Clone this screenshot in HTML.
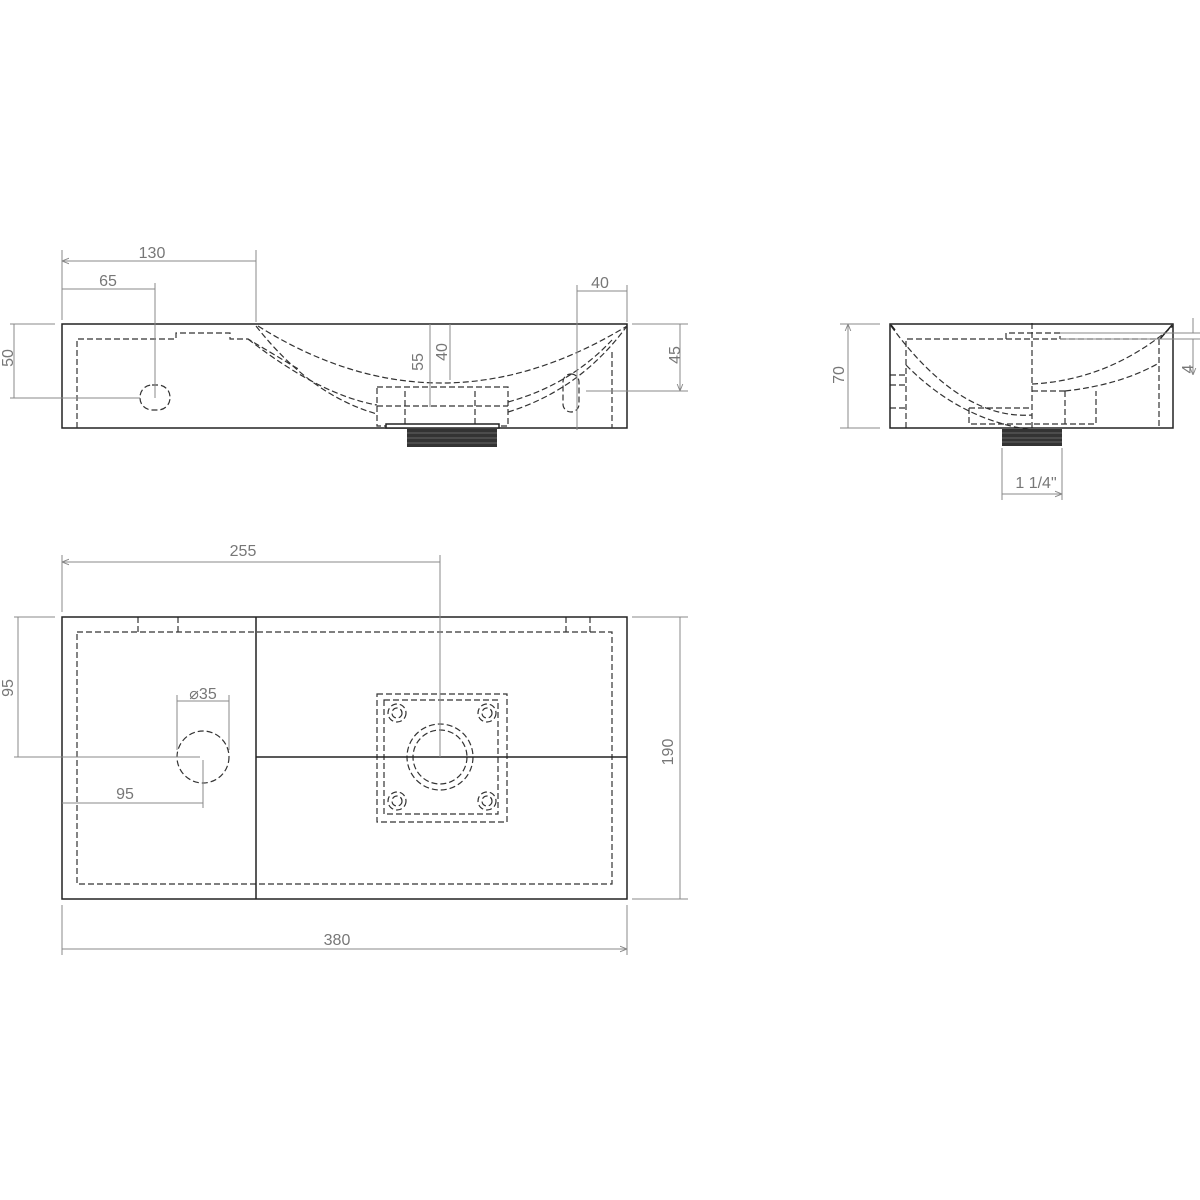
<!DOCTYPE html><html><head><style>body{margin:0;background:#fff}svg{display:block}text{font-family:"Liberation Sans",sans-serif;font-size:16px;fill:#777;text-anchor:middle}</style></head><body>
<svg width="1200" height="1200" viewBox="0 0 1200 1200" xmlns="http://www.w3.org/2000/svg">
<defs><marker id="a" viewBox="0 0 10 10" refX="10" refY="5" markerWidth="7" markerHeight="7" orient="auto-start-reverse"><path d="M0,1L10,5L0,9" fill="none" stroke="#888" stroke-width="1.3"/></marker></defs>
<g fill="none" stroke="#222" stroke-width="1.5">
<rect x="62" y="324" width="565" height="104"/>
</g>
<g fill="none" stroke="#333" stroke-width="1.2" stroke-dasharray="6,3">
<path d="M77,428V339H176V333H230V339H248L300,370"/>
<path d="M258,326Q440,440 627,326"/>
<path d="M248,339Q320,395 377,405M508,402Q570,385 612,340"/>
<path d="M256,326Q310,395 377,414M508,412Q580,390 627,326"/>
<path d="M612,352V428"/>
<rect x="377" y="387" width="131" height="39"/>
<path d="M405,391V426M475,391V426M377,406H508"/>
<rect x="140" y="385" width="30" height="25" rx="12"/>
<rect x="563" y="374" width="16" height="38" rx="8"/>
<path d="M906,428V339H1159V428M1006,339V333H1060V339"/>
<path d="M891,326Q960,420 1032,415M906,365Q960,420 1032,430"/>
<path d="M1032,323V430M1032,384Q1110,380 1173,326M1032,391H1065M1065,391Q1120,385 1159,363"/>
<path d="M969,408H1032M969,408V424H1096V391M1065,391V424"/>
<path d="M890,375H906M890,385H906M890,408H906"/>
<path d="M77,632H612V884H77Z"/>
<path d="M138,617V632M178,617V632M566,617V632M590,617V632"/>
<circle cx="203" cy="757" r="26"/>
<rect x="377" y="694" width="130" height="128"/>
<rect x="384" y="700" width="114" height="114"/>
<circle cx="440" cy="757" r="33"/><circle cx="440" cy="757" r="27"/>
<circle cx="397" cy="713" r="9"/><circle cx="487" cy="713" r="9"/><circle cx="397" cy="801" r="9"/><circle cx="487" cy="801" r="9"/>
<circle cx="397" cy="713" r="5"/><circle cx="487" cy="713" r="5"/><circle cx="397" cy="801" r="5"/><circle cx="487" cy="801" r="5"/>
</g>
<g fill="none" stroke="#222" stroke-width="1.5">
<rect x="386" y="424" width="113" height="4" fill="#fff"/>
<rect x="890" y="324" width="283" height="104"/>
<path d="M891,325L895,330M1172,325L1160,339"/>
<rect x="62" y="617" width="565" height="282"/>
<path d="M256,617V899M256,757H627"/>
</g>
<g fill="#333"><rect x="407" y="429" width="90" height="18"/><rect x="1002" y="429" width="60" height="17"/></g>
<g stroke="#666" stroke-width="1"><path d="M407,433H497M407,438H497M407,443H497M1002,433H1062M1002,438H1062M1002,442H1062"/></g>
<g fill="none" stroke="#888" stroke-width="1">
<path d="M62,250V320M256,250V322M155,283V398M577,285V430M627,285V322M10,324H55M10,398H140M632,324H688M586,391H688"/>
<path d="M62,261H256M62,289H155M577,291H627M14,324V398M430,324V407M450,324V380M680,324V391" marker-start="url(#a)" marker-end="url(#a)"/>
<path d="M1060,333H1200M1060,339H1200M840,324H880M840,428H880M1002,448V500M1062,448V500"/>
<path d="M848,324V428M1002,494H1062" marker-start="url(#a)" marker-end="url(#a)"/>
<path d="M1193,318V333M1193,339V375" marker-end="url(#a)"/>
<path d="M62,555V612M440,555V757M14,617H55M14,757H200M177,695V750M229,695V750M203,760V808M632,617H688M632,899H688M62,905V955M627,905V955"/>
<path d="M62,562H440M18,617V757M177,701H229M62,803H203M680,617V899M62,949H627" marker-start="url(#a)" marker-end="url(#a)"/>
</g>
<text x="152" y="258">130</text><text x="108" y="286">65</text><text x="600" y="288">40</text>
<text transform="translate(13,358) rotate(-90)">50</text>
<text transform="translate(423,362) rotate(-90)">55</text>
<text transform="translate(447,352) rotate(-90)">40</text>
<text transform="translate(680,355) rotate(-90)">45</text>
<text transform="translate(844,375) rotate(-90)">70</text>
<text transform="translate(1193,369) rotate(-90)">4</text>
<text x="1036" y="488">1 1/4"</text>
<text x="243" y="556">255</text>
<text transform="translate(13,688) rotate(-90)">95</text>
<text x="203" y="699">⌀35</text>
<text x="125" y="799">95</text>
<text transform="translate(673,752) rotate(-90)">190</text>
<text x="337" y="945">380</text>
</svg></body></html>
